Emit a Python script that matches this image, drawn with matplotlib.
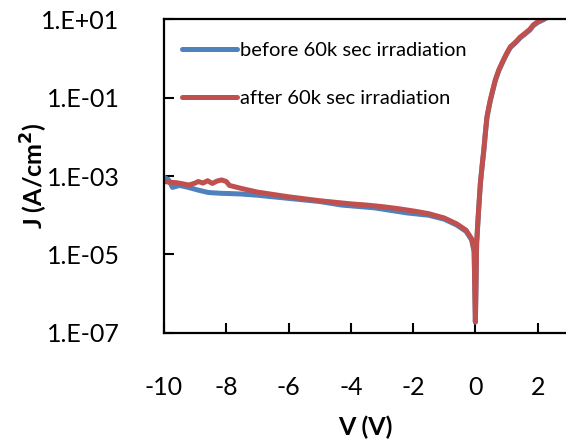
import numpy as np
import matplotlib
matplotlib.use("Agg")
import matplotlib.pyplot as plt

plt.rcParams['font.family'] = ['Lato', 'DejaVu Sans']

# data (log10 of J in A/cm^2)
v_after = [-10, -9.8, -9.6, -9.4, -9.2, -9.0, -8.9, -8.75, -8.6, -8.45, -8.3, -8.15, -8.0,
           -7.9, -7.5, -7.0, -6.5, -6.0, -5.5, -5.0, -4.5, -4.0, -3.5, -3.0, -2.5, -2.0,
           -1.5, -1.0, -0.6, -0.3, -0.12, -0.04, 0.0, 0.04, 0.1, 0.16, 0.22, 0.27, 0.32,
           0.37, 0.43, 0.48, 0.56, 0.64, 0.75, 0.9, 1.0, 1.12, 1.3, 1.44, 1.6, 1.75, 1.86,
           2.0, 2.18, 2.4]
logj_after = [-3.14, -3.16, -3.17, -3.20, -3.23, -3.18, -3.14, -3.18, -3.12, -3.19, -3.13,
              -3.10, -3.14, -3.24, -3.32, -3.41, -3.47, -3.53, -3.58, -3.63, -3.67, -3.71,
              -3.74, -3.78, -3.83, -3.89, -3.96, -4.07, -4.22, -4.38, -4.60, -4.90, -6.72,
              -4.70, -3.90, -3.18, -2.70, -2.34, -1.90, -1.50, -1.25, -1.06, -0.80, -0.55,
              -0.30, -0.04, 0.12, 0.29, 0.42, 0.54, 0.64, 0.74, 0.85, 0.93, 1.00, 1.10]

v_before = [-10, -9.85, -9.73, -9.5, -9.22, -8.9, -8.58, -8.2, -7.8, -7.5, -7.0, -6.0, -5.0,
            -4.3, -3.25, -2.2, -1.5, -1.0, -0.6, -0.3, -0.12, -0.04, 0.0, 0.04, 0.1, 0.16,
            0.22, 0.27, 0.32, 0.37, 0.43, 0.48, 0.56, 0.64, 0.75, 0.9, 1.0, 1.12, 1.3,
            1.44, 1.6, 1.75, 1.86, 2.0, 2.18, 2.4]
logj_before = [-3.03, -3.10, -3.29, -3.24, -3.29, -3.36, -3.42, -3.44, -3.45, -3.46, -3.49, -3.57,
               -3.65, -3.74, -3.81, -3.94, -4.00, -4.10, -4.25, -4.41, -4.63, -4.93, -6.72,
               -4.72, -3.92, -3.20, -2.72, -2.36, -1.92, -1.52, -1.27, -1.08, -0.82, -0.57,
               -0.32, -0.06, 0.10, 0.27, 0.40, 0.52, 0.62, 0.72, 0.83, 0.91, 0.98, 1.08]

labels = ["before 60k sec irradiation", "after 60k sec irradiation"]
yticks = [1e1, 1e-1, 1e-3, 1e-5, 1e-7]
ytick_labels = ["1.E+01", "1.E-01", "1.E-03", "1.E-05", "1.E-07"]
xticks = [-10, -8, -6, -4, -2, 0, 2]

fig = plt.figure(figsize=(5.66, 4.40), dpi=100)
ax = fig.add_axes([0.2898, 0.2432, 0.7102, 0.7136])

ax.plot(v_before, 10 ** np.array(logj_before), color='#4F81BD', lw=3.6,
        solid_capstyle='round', solid_joinstyle='round', label=labels[0])
ax.plot(v_after, 10 ** np.array(logj_after), color='#C0504D', lw=3.6,
        solid_capstyle='round', solid_joinstyle='round', label=labels[1])

ax.set_yscale('log')
ax.set_ylim(1e-7, 1e1)
ax.set_xlim(-10, 2.91)
ax.set_yticks(yticks)
ax.set_yticklabels(ytick_labels)
ax.minorticks_off()
ax.set_xticks(xticks)
ax.set_xticklabels([str(t) for t in xticks])

ax.tick_params(axis='both', direction='in', length=7, width=1.5, labelsize=18)
ax.tick_params(axis='x', pad=31)
ax.tick_params(axis='y', pad=32)

for side in ['left', 'bottom', 'top']:
    ax.spines[side].set_linewidth(1.6)
ax.spines['right'].set_visible(False)

ax.set_xlabel("V (V)", fontsize=18, fontweight='bold', labelpad=12)
ax.set_ylabel("J (A/cm$^\\mathbf{2}$)", fontsize=18, fontweight='bold', labelpad=-6)

leg = ax.legend(loc='upper left', bbox_to_anchor=(0.045, 0.927), frameon=False, fontsize=14.5,
                handlelength=2.75, handletextpad=0.1, labelspacing=1.55,
                borderaxespad=0, borderpad=0)

fig.savefig("out.png", dpi=100)
